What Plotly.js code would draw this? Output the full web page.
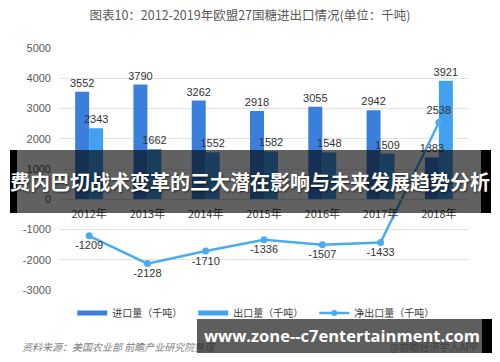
<!DOCTYPE html>
<html>
<head>
<meta charset="utf-8">
<script src="https://cdn.plot.ly/plotly-3.0.1.min.js"></script>
<style>
html,body{margin:0;padding:0;background:#fff;}
#wrap{position:relative;width:500px;height:362px;overflow:hidden;}
#chart{position:absolute;left:0;top:0;width:500px;height:362px;}
.ov{position:absolute;pointer-events:none;}
</style>
</head>
<body>
<div id="wrap">
<div id="chart"></div>
<div class="ov" style="left:10px;top:150px;width:7px;height:63px;background:#000;"></div>
<div class="ov" style="left:17px;top:150px;width:464px;height:63px;background:rgba(0,0,0,0.62);"></div>
<div class="ov" style="left:481px;top:150px;width:10px;height:63px;background:#000;"></div>
<div class="ov" style="left:0px;top:150px;width:500px;height:63px;line-height:63px;text-align:center;color:#fff;font-family:'Noto Sans CJK SC',sans-serif;font-weight:bold;font-size:20px;white-space:nowrap;text-shadow:1px 1px 2px rgba(0,0,0,0.6);">费内巴切战术变革的三大潜在影响与未来发展趋势分析</div>
<div class="ov" style="left:197px;top:319px;width:285px;height:34px;background:rgba(40,40,40,0.75);"></div>
<div class="ov" style="left:482px;top:319px;width:10px;height:34px;background:#000;"></div>
<div class="ov" style="left:202px;top:319px;width:280px;height:34px;line-height:34px;text-align:center;color:#fff;font-family:'Open Sans',sans-serif;font-weight:bold;font-size:16.5px;white-space:nowrap;">www.zone--c7entertainment.com</div>
</div>
<script>
var years = ['2012年','2013年','2014年','2015年','2016年','2017年','2018年'];
var importVals = [3552, 3790, 3262, 2918, 3055, 2942, 1383];
var exportVals = [2343, 1662, 1552, 1582, 1548, 1509, 3921];
var netVals = [-1209, -2128, -1710, -1336, -1507, -1433, 2538];
var netLabelPos = ['bottom center','bottom center','bottom center','bottom center','bottom center','bottom center','top center'];
var yTicks = [-3000, -2000, -1000, 0, 1000, 2000, 3000, 4000, 5000];

var cImport = '#3b7fdd', cExport = '#42a1ee', cNet = '#4aabf3';
var numFont = {family: 'Liberation Sans, Arial, sans-serif', size: 11, color: '#333'};

var traces = [
  {type:'bar', x: years, y: importVals, name:'进口量（千吨）', marker:{color:cImport}, showlegend:false, hoverinfo:'skip'},
  {type:'bar', x: years, y: exportVals, name:'出口量（千吨）', marker:{color:cExport}, showlegend:false, hoverinfo:'skip'},
  // label layers on an overlaid axis so the numbers sit above every bar
  {type:'bar', x: years, y: importVals, xaxis:'x2', marker:{color:'rgba(0,0,0,0)'},
   text: importVals.map(String), textposition:'outside', textfont: numFont, constraintext:'none', cliponaxis:false, showlegend:false},
  {type:'bar', x: years, y: exportVals, xaxis:'x2', marker:{color:'rgba(0,0,0,0)'},
   text: exportVals.map(String), textposition:'outside', textfont: numFont, constraintext:'none', cliponaxis:false, showlegend:false},
  {type:'scatter', mode:'lines+markers+text', x: years, y: netVals, xaxis:'x2', name:'净出口量（千吨）',
   line:{color:cNet, width:2.5}, marker:{color:cNet, size:7},
   text: netVals.map(String), textposition: netLabelPos, textfont: numFont, cliponaxis:false, showlegend:false},
  {type:'scatter', mode:'lines', x:[null], y:[null], name:'进口量（千吨）', line:{color:cImport, width:5}},
  {type:'scatter', mode:'lines', x:[null], y:[null], name:'出口量（千吨）', line:{color:cExport, width:5}},
  {type:'scatter', mode:'lines+markers', x:[null], y:[null], name:'净出口量（千吨）', line:{color:cNet, width:2.5}, marker:{color:cNet, size:6}}
];

var layout = {
  width: 500, height: 362,
  margin: {l: 60, r: 32, t: 48, b: 72},
  paper_bgcolor: '#fff', plot_bgcolor: '#fff',
  title: {text: '图表10：2012-2019年欧盟27国糖进出口情况(单位：千吨)', x: 0.5, xanchor:'center', y: 0.958, yanchor:'middle',
          font: {family: 'Noto Sans CJK SC, sans-serif', size: 12.5, color: '#595959'}},
  barmode: 'group', bargap: 0.52, bargroupgap: 0,
  xaxis: {anchor: 'free', position: 0.375, showline: true, linecolor: '#d9d9d9', linewidth: 1,
          ticks: '', ticklabelstandoff: 5, tickfont: {family: 'Noto Sans CJK SC, sans-serif', size: 11, color: '#404040'},
          showgrid: false, fixedrange: true},
  xaxis2: {overlaying: 'x', matches: 'x', anchor: 'y', showticklabels: false, showline: false, showgrid: false, ticks: ''},
  yaxis: {range: [-3000, 5000], tickvals: yTicks, ticktext: yTicks.map(String), showgrid: true, gridcolor: '#e3e3e3',
          zeroline: false, showline: false, ticks: '', ticklabelstandoff: 8,
          tickfont: {family: 'Liberation Sans, Arial, sans-serif', size: 11, color: '#595959'}},
  legend: {orientation: 'h', x: 0.03, xanchor: 'left', y: -0.035, yanchor: 'top',
           font: {family: 'Noto Sans CJK SC, sans-serif', size: 10, color: '#404040'},
           itemwidth: 30, entrywidth: 76, entrywidthmode: 'pixels', tracegroupgap: 0, traceorder: 'normal'},
  annotations: [
    {text: '<i>资料来源：美国农业部 前瞻产业研究院整理</i>', xref: 'paper', yref: 'paper', x: -0.097, y: -0.235,
     xanchor: 'left', yanchor: 'middle', showarrow: false,
     font: {family: 'Noto Sans CJK SC, sans-serif', size: 10, color: '#7f7f7f'}},
    {text: '@前瞻经济学人APP', xref: 'paper', yref: 'paper', x: 1.03, y: -0.235,
     xanchor: 'right', yanchor: 'middle', showarrow: false,
     font: {family: 'Noto Sans CJK SC, sans-serif', size: 10, color: '#8a8a8a'}}
  ]
};

Plotly.newPlot('chart', traces, layout, {displayModeBar: false, staticPlot: true});
</script>
</body>
</html>
